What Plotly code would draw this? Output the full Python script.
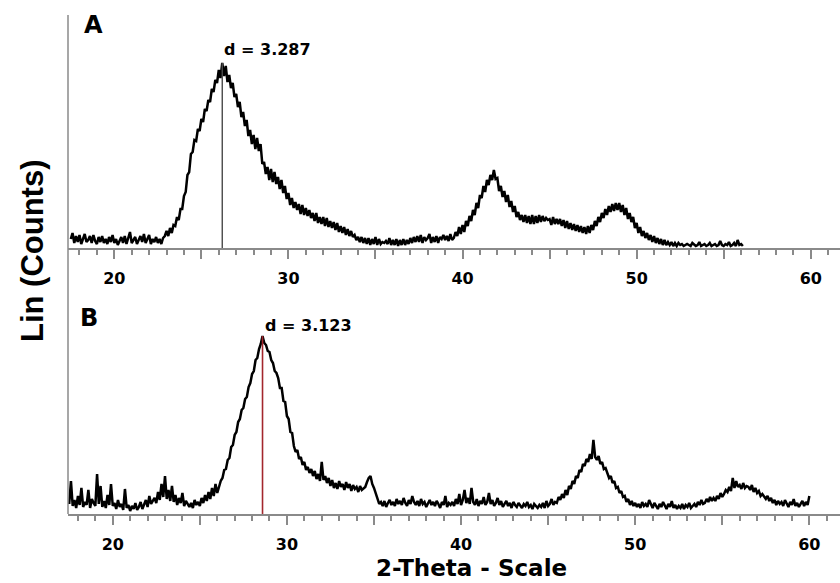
import numpy as np
import plotly.graph_objects as go

# Scan grid shared by both diffractograms (2-theta, degrees)
theta_start = 17.5
theta_step = 0.1

# Sample A: intensity (counts), one row per degree starting at 17.5
counts_a = [
    9, 15, 5, 12, 6, 13, 4, 10, 14, 6,
    8, 12, 5, 13, 7, 4, 11, 6, 12, 5,
    9, 4, 11, 6, 13, 5, 9, 3, 8, 11,
    5, 12, 4, 9, 16, 5, 8, 11, 4, 9,
    12, 6, 14, 5, 10, 13, 4, 9, 6, 11,
    5, 9, 4, 10, 12, 17, 12, 20, 15, 23,
    22, 31, 28, 39, 39, 52, 56, 73, 76, 94,
    96, 108, 107, 119, 117, 129, 126, 139, 137, 148,
    146, 159, 156, 168, 165, 178, 170, 185, 172, 182,
    166, 173, 160, 165, 151, 154, 141, 146, 131, 136,
    122, 128, 112, 118, 104, 113, 99, 110, 97, 104,
    84, 86, 74, 81, 68, 79, 66, 76, 64, 71,
    59, 68, 55, 62, 49, 55, 43, 50, 40, 46,
    38, 44, 34, 43, 33, 40, 32, 38, 30, 35,
    27, 35, 25, 31, 24, 31, 22, 30, 21, 27,
    20, 26, 18, 25, 16, 22, 15, 21, 13, 19,
    12, 17, 11, 13, 8, 11, 6, 11, 5, 10,
    4, 10, 3, 9, 4, 11, 3, 9, 4, 6,
    5, 7, 4, 10, 3, 8, 3, 9, 2, 8,
    3, 9, 3, 8, 4, 10, 5, 11, 6, 12,
    6, 13, 5, 11, 8, 10, 14, 5, 11, 6,
    12, 5, 11, 9, 13, 8, 12, 7, 14, 8,
    10, 16, 12, 21, 14, 23, 16, 27, 22, 32,
    27, 38, 33, 45, 40, 53, 50, 62, 56, 68,
    63, 73, 68, 78, 69, 70, 57, 62, 51, 57,
    46, 53, 41, 47, 36, 42, 31, 36, 28, 33,
    26, 33, 25, 32, 24, 33, 24, 32, 25, 33,
    26, 32, 27, 30, 28, 29, 23, 31, 24, 29,
    24, 29, 22, 28, 20, 27, 19, 25, 18, 24,
    17, 23, 16, 22, 15, 21, 14, 22, 15, 23,
    18, 27, 22, 31, 26, 35, 30, 39, 33, 42,
    36, 44, 37, 45, 38, 45, 36, 43, 33, 40,
    29, 35, 26, 31, 20, 25, 15, 21, 12, 17,
    10, 15, 8, 13, 6, 12, 5, 10, 4, 9,
    3, 8, 3, 6, 3, 6, 2, 5, 2, 5,
    3, 4, 2, 3, 4, 3, 2, 5, 3, 2,
    3, 6, 2, 3, 4, 2, 3, 5, 2, 3,
    4, 2, 3, 7, 3, 2, 4, 3, 6, 2,
    3, 5, 2, 8, 3, 4, 2,
]

# Sample B: intensity (counts), one row per degree starting at 17.5
counts_b = [
    10, 33, 8, 14, 6, 18, 9, 26, 7, 12,
    9, 24, 6, 15, 11, 8, 40, 10, 28, 7,
    13, 6, 19, 9, 30, 8, 11, 5, 14, 7,
    10, 4, 25, 6, 9, 3, 8, 5, 11, 4,
    7, 12, 5, 9, 14, 7, 18, 10, 13, 16,
    11, 22, 14, 30, 17, 38, 15, 24, 13, 28,
    12, 19, 9, 16, 11, 21, 8, 13, 10, 7,
    11, 6, 14, 9, 12, 8, 16, 11, 19, 13,
    22, 15, 26, 18, 30, 21, 27, 33, 36, 44,
    45, 54, 56, 67, 69, 79, 82, 92, 95, 104,
    106, 115, 117, 127, 131, 140, 143, 154, 156, 165,
    170, 178, 171, 169, 163, 162, 154, 151, 143, 141,
    136, 126, 126, 113, 112, 98, 95, 82, 81, 68,
    62, 64, 55, 57, 49, 52, 44, 47, 41, 45,
    38, 43, 35, 40, 33, 52, 34, 38, 31, 36,
    28, 34, 26, 31, 25, 33, 27, 30, 24, 32,
    26, 30, 23, 29, 25, 27, 22, 28, 24, 26,
    27, 32, 36, 38, 30, 26, 20, 16, 10, 12,
    8, 13, 7, 11, 14, 9, 12, 8, 15, 10,
    13, 9, 16, 11, 8, 14, 10, 18, 12, 9,
    13, 8, 15, 10, 12, 7, 11, 14, 9, 12,
    8, 13, 10, 6, 12, 9, 18, 7, 11, 9,
    12, 8, 15, 10, 20, 9, 14, 24, 11, 16,
    10, 26, 12, 9, 15, 8, 13, 10, 17, 9,
    12, 21, 10, 14, 8, 11, 16, 9, 13, 7,
    10, 13, 8, 11, 6, 12, 9, 7, 11, 8,
    6, 10, 8, 12, 7, 9, 5, 10, 8, 6,
    9, 7, 11, 6, 13, 8, 10, 15, 9, 12,
    11, 17, 14, 20, 16, 24, 19, 28, 25, 33,
    30, 38, 36, 44, 42, 50, 48, 55, 52, 60,
    55, 74, 57, 54, 58, 50, 52, 45, 46, 40,
    36, 38, 31, 33, 26, 27, 21, 23, 17, 18,
    12, 15, 9, 13, 8, 11, 7, 10, 6, 12,
    8, 10, 7, 14, 9, 6, 11, 8, 5, 10,
    7, 12, 8, 5, 10, 7, 13, 6, 9, 5,
    8, 6, 10, 5, 9, 7, 11, 6, 8, 10,
    7, 12, 9, 14, 10, 11, 15, 12, 17, 13,
    16, 13, 18, 15, 21, 17, 20, 24, 22, 27,
    23, 36, 26, 33, 27, 29, 25, 31, 26, 28,
    27, 24, 29, 22, 26, 21, 23, 18, 20, 17,
    15, 18, 13, 16, 11, 14, 9, 13, 10, 12,
    8, 14, 10, 7, 12, 9, 15, 8, 11, 7,
    10, 13, 8, 12, 9, 18,
]

tick_vals = [20, 25, 30, 35, 40, 45, 50, 55, 60]
tick_text = ["20", "", "30", "", "40", "", "50", "", "60"]
panel_labels = ["A", "B"]
d_labels = ["d = 3.287", "d = 3.123"]
y_title = "Lin (Counts)"
x_title = "2-Theta - Scale"

theta_a = np.round(theta_start + theta_step * np.arange(len(counts_a)), 2)
theta_b = np.round(theta_start + theta_step * np.arange(len(counts_b)), 2)

AXIS_GRAY = "#8a8a8a"
LABEL_FONT = dict(family="DejaVu Sans", size=16, color="black", weight="bold")
TRACE_WIDTH = 2.5

fig = go.Figure()

# diffractogram traces
fig.add_trace(go.Scatter(x=theta_a, y=counts_a, mode="lines",
                         line=dict(color="black", width=TRACE_WIDTH),
                         xaxis="x", yaxis="y", showlegend=False, hoverinfo="skip"))
fig.add_trace(go.Scatter(x=theta_b, y=counts_b, mode="lines",
                         line=dict(color="black", width=TRACE_WIDTH),
                         xaxis="x2", yaxis="y2", showlegend=False, hoverinfo="skip"))

# main reflection markers, placed at the strongest point of each scan
ia = int(np.argmax(counts_a))
ib = int(np.argmax(counts_b))
peak_a = (float(theta_a[ia]), counts_a[ia])
peak_b = (float(theta_b[ib]), counts_b[ib])
fig.add_trace(go.Scatter(x=[peak_a[0], peak_a[0]], y=[0, peak_a[1]], mode="lines",
                         line=dict(color="#4a4a4a", width=1.4),
                         xaxis="x", yaxis="y", showlegend=False, hoverinfo="skip"))
fig.add_trace(go.Scatter(x=[peak_b[0], peak_b[0]], y=[0, peak_b[1]], mode="lines",
                         line=dict(color="#a3262c", width=1.6),
                         xaxis="x2", yaxis="y2", showlegend=False, hoverinfo="skip"))


def x_axis(rng, anchor):
    return dict(
        domain=[0, 1], anchor=anchor, range=rng,
        showline=True, linecolor=AXIS_GRAY, linewidth=1.5,
        showgrid=False, zeroline=False,
        ticks="outside", tickmode="array", tickvals=tick_vals, ticktext=tick_text,
        ticklen=9, tickwidth=1.5, tickcolor=AXIS_GRAY,
        ticklabelstandoff=6,
        minor=dict(ticks="outside", tick0=0, dtick=1, ticklen=5,
                   tickwidth=1.5, tickcolor=AXIS_GRAY, showgrid=False),
        tickfont=LABEL_FONT,
    )


fig.update_layout(
    width=840, height=583,
    margin=dict(l=68, r=0, t=0, b=0),
    paper_bgcolor="white", plot_bgcolor="white",
    xaxis=x_axis([17.34, 61.68], "y"),
    yaxis=dict(domain=[0.5746, 0.9743], range=[0, 233], visible=False, fixedrange=True),
    xaxis2=x_axis([17.43, 61.76], "y2"),
    yaxis2=dict(domain=[0.1184, 0.5111], range=[0, 229], visible=False, fixedrange=True),
    shapes=[
        # common vertical intensity axis running through both panels
        dict(type="line", xref="paper", yref="paper", x0=0, x1=0,
             y0=0.1184, y1=0.9743, line=dict(color=AXIS_GRAY, width=1.5)),
    ],
    annotations=[
        dict(text=d_labels[0], x=peak_a[0], y=198, xref="x", yref="y",
             xanchor="left", yanchor="middle", showarrow=False, font=LABEL_FONT),
        dict(text=d_labels[1], x=peak_b[0], y=189, xref="x2", yref="y2",
             xanchor="left", yanchor="middle", showarrow=False, font=LABEL_FONT),
        dict(text=panel_labels[0], x=0.033, y=0.9563, xref="paper", yref="paper",
             xanchor="center", yanchor="middle", showarrow=False,
             font=dict(family="DejaVu Sans", size=24, color="black", weight="bold")),
        dict(text=panel_labels[1], x=0.0272, y=0.4554, xref="paper", yref="paper",
             xanchor="center", yanchor="middle", showarrow=False,
             font=dict(family="DejaVu Sans", size=24, color="black", weight="bold")),
        dict(text=y_title, x=-0.0453, y=0.5695, xref="paper", yref="paper",
             xanchor="center", yanchor="middle", textangle=-90, showarrow=False,
             font=dict(family="Liberation Sans", size=31, color="black", weight="bold")),
        dict(text=x_title, x=0.5233, y=0.0, xref="paper", yref="paper",
             xanchor="center", yanchor="bottom", showarrow=False,
             font=dict(family="DejaVu Sans", size=23, color="black", weight="bold")),
    ],
)

fig.write_html("out.html")
